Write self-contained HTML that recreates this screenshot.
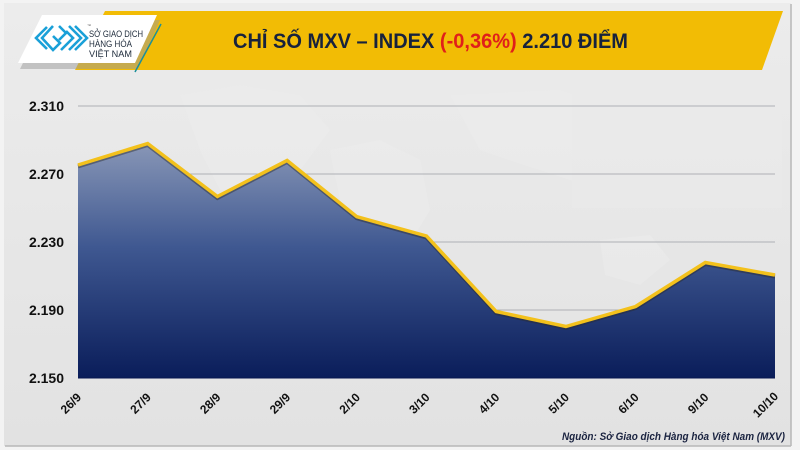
<!DOCTYPE html>
<html><head><meta charset="utf-8"><style>
html,body{margin:0;padding:0;background:#f3f3f3;}
svg{display:block;}
</style></head><body>
<svg width="800" height="450" viewBox="0 0 800 450" xmlns="http://www.w3.org/2000/svg">
<defs>
<linearGradient id="fillg" x1="0" y1="140" x2="0" y2="378" gradientUnits="userSpaceOnUse">
<stop offset="0" stop-color="#8b99b8"/>
<stop offset="0.45" stop-color="#3f5891"/>
<stop offset="1" stop-color="#0a1d5a"/>
</linearGradient>
<linearGradient id="bgg" x1="0" y1="0" x2="0" y2="450" gradientUnits="userSpaceOnUse">
<stop offset="0" stop-color="#ececec"/>
<stop offset="1" stop-color="#e2e2e2"/>
</linearGradient>
</defs>
<!-- panel -->
<rect x="4" y="3" width="787" height="443" fill="url(#bgg)"/>
<line x1="791" y1="4" x2="791" y2="446" stroke="#b8b8b8" stroke-width="1.5"/>
<line x1="5" y1="446" x2="791" y2="446" stroke="#b8b8b8" stroke-width="1.5"/>
<!-- faint map -->
<g fill="#eeeeee" opacity="0.45">
<path d="M180 95 L240 85 L300 95 L330 130 L300 170 L260 200 L220 190 L200 150 Z"/>
<path d="M330 150 L380 140 L420 160 L430 210 L400 260 L370 250 L340 200 Z"/>
<path d="M450 95 L560 90 L620 110 L640 160 L600 190 L540 170 L480 150 Z"/>
<path d="M600 240 L650 235 L670 260 L640 285 L605 275 Z"/>
<rect x="572" y="88" width="210" height="120" fill="#ececec"/>
</g>
<!-- yellow header -->
<polygon points="105,11 783,11 762,70 75,70" fill="#f2bc05"/>
<!-- logo shadow -->
<polygon points="42,17 158,17 136,66 18,66" fill="#9a9a9a" opacity="0.5" transform="translate(2,3)"/>
<!-- logo -->
<polygon points="42,15 157,15 135,63 18,63" fill="#ffffff"/>
<line x1="161" y1="24" x2="135" y2="72" stroke="#1b8f9a" stroke-width="1.5"/>
<g fill="none" stroke="#1aa0d8" stroke-width="2.6" stroke-linejoin="miter">
<polyline points="47,27 36,38 47,49"/>
<polyline points="53,26 42,38 53,50 60,43 53,36"/>
<polyline points="59,26 66,33 59,40"/>
<polyline points="61,50 73,38 66,31"/>
<polyline points="69,26 81,38 69,50"/>
<polyline points="75,26 87,38 75,50"/>
</g>
<text x="87" y="27" font-family="Liberation Sans, sans-serif" font-size="4" fill="#555">™</text>
<g font-family="Liberation Sans, sans-serif" font-size="9.5" fill="#1d2a3a">
<text x="89" y="37" textLength="54" lengthAdjust="spacingAndGlyphs">SỞ GIAO DỊCH</text>
<text x="89" y="47" textLength="43" lengthAdjust="spacingAndGlyphs">HÀNG HÓA</text>
<text x="89" y="57" textLength="43" lengthAdjust="spacingAndGlyphs">VIỆT NAM</text>
</g>
<!-- title -->
<text x="233" y="48" font-family="Liberation Sans, sans-serif" font-weight="bold" font-size="21" fill="#17223d" textLength="395" lengthAdjust="spacingAndGlyphs">CHỈ SỐ MXV – INDEX <tspan fill="#e01f1a">(-0,36%)</tspan> 2.210 ĐIỂM</text>
<!-- grid -->
<g stroke="#aeb0b5" stroke-width="1">
<line x1="78" y1="106" x2="775" y2="106"/>
<line x1="78" y1="174" x2="775" y2="174"/>
<line x1="78" y1="242" x2="775" y2="242"/>
<line x1="78" y1="310" x2="775" y2="310"/>
</g>
<!-- area -->
<polygon points="78,165 147.7,143.5 217.4,196.5 287.1,160.5 356.8,216.7 426.5,236 496.2,311.5 565.9,326.5 635.6,306.5 705.3,262.5 775,275 775,378 78,378" fill="url(#fillg)"/>
<line x1="78" y1="378" x2="775" y2="378" stroke="#071650" stroke-width="1"/>
<polyline points="78,165 147.7,143.5 217.4,196.5 287.1,160.5 356.8,216.7 426.5,236 496.2,311.5 565.9,326.5 635.6,306.5 705.3,262.5 775,275" fill="none" stroke="#2a2a2a" stroke-opacity="0.45" stroke-width="4" transform="translate(0,1.5)"/>
<polyline points="78,165 147.7,143.5 217.4,196.5 287.1,160.5 356.8,216.7 426.5,236 496.2,311.5 565.9,326.5 635.6,306.5 705.3,262.5 775,275" fill="none" stroke="#f3c11c" stroke-width="3.5" stroke-linejoin="miter"/>
<!-- y labels -->
<g font-family="Liberation Sans, sans-serif" font-weight="bold" font-size="14" fill="#111" text-anchor="end">
<text x="64" y="111">2.310</text>
<text x="64" y="179">2.270</text>
<text x="64" y="247">2.230</text>
<text x="64" y="315">2.190</text>
<text x="64" y="383">2.150</text>
</g>
<!-- x labels -->
<g font-family="Liberation Sans, sans-serif" font-weight="bold" font-size="12" fill="#111" text-anchor="end">
<text transform="translate(82,398) rotate(-45)">26/9</text>
<text transform="translate(151.7,398) rotate(-45)">27/9</text>
<text transform="translate(221.4,398) rotate(-45)">28/9</text>
<text transform="translate(291.1,398) rotate(-45)">29/9</text>
<text transform="translate(360.8,398) rotate(-45)">2/10</text>
<text transform="translate(430.5,398) rotate(-45)">3/10</text>
<text transform="translate(500.2,398) rotate(-45)">4/10</text>
<text transform="translate(569.9,398) rotate(-45)">5/10</text>
<text transform="translate(639.6,398) rotate(-45)">6/10</text>
<text transform="translate(709.3,398) rotate(-45)">9/10</text>
<text transform="translate(779,397) rotate(-45)">10/10</text>
</g>
<!-- source -->
<text x="562" y="440" font-family="Liberation Sans, sans-serif" font-weight="bold" font-style="italic" font-size="11" fill="#1a2340" textLength="223" lengthAdjust="spacingAndGlyphs">Nguồn: Sở Giao dịch Hàng hóa Việt Nam (MXV)</text>
</svg>
</body></html>
